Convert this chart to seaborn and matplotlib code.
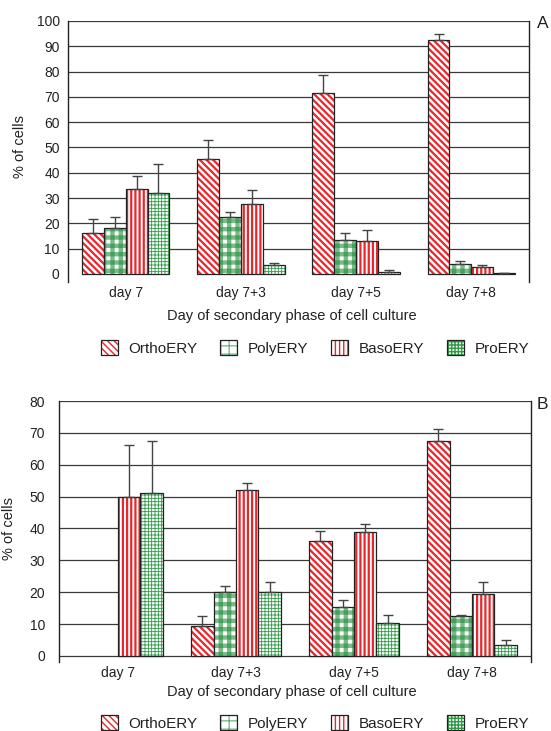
import numpy as np
import pandas as pd
import matplotlib
matplotlib.use('Agg')
import matplotlib.pyplot as plt
from matplotlib.patches import Rectangle
import seaborn as sns

days = ['day 7', 'day 7+3', 'day 7+5', 'day 7+8']
cell_types = ['OrthoERY', 'PolyERY', 'BasoERY', 'ProERY']

# Panel A - mean % of cells and upper SD
a_ortho = [16, 45.5, 71.5, 92.5]
a_ortho_sd = [5.8, 7.5, 7.1, 2.4]
a_poly = [18, 22.5, 13.5, 4]
a_poly_sd = [4.5, 2, 2.8, 1.2]
a_baso = [33.5, 27.5, 13, 2.8]
a_baso_sd = [5.3, 5.5, 4.4, 0.8]
a_pro = [32, 3.5, 0.8, 0.3]
a_pro_sd = [11.3, 0.9, 0.7, 0.2]

# Panel B
b_ortho = [np.nan, 9.4, 36, 67.3]
b_ortho_sd = [np.nan, 3, 3.3, 4]
b_poly = [np.nan, 20, 15.5, 12.5]
b_poly_sd = [np.nan, 2, 2, 0.3]
b_baso = [50, 52, 39, 19.5]
b_baso_sd = [16.3, 2.4, 2.5, 3.8]
b_pro = [51.2, 20, 10.3, 3.4]
b_pro_sd = [16.3, 3.2, 2.5, 1.6]

RED = '#e8262b'
GREEN = '#2f9a45'
CHECK = (0.13, 0.56, 0.24, 0.6)
OUTLINE = '#222222'

styles = {
    'OrthoERY': dict(hatch='\\\\\\\\\\', color=RED, hlw=1.6),
    'PolyERY': dict(hatch='||', color=CHECK, hlw=3.2),
    'BasoERY': dict(hatch='||||', color=RED, hlw=1.6),
    'ProERY': dict(hatch='+++++', color=GREEN, hlw=0.6),
}


def make_df(values, sds):
    rows = []
    for ct, vals, errs in zip(cell_types, values, sds):
        for d, v, e in zip(days, vals, errs):
            rows.append({'day': d, 'type': ct, 'value': v, 'sd': e})
    return pd.DataFrame(rows)


def hatched(xy, w, h, ct):
    st = styles[ct]
    parts = []
    p = Rectangle(xy, w, h, facecolor='white', edgecolor=st['color'], hatch=st['hatch'], lw=0)
    p.set_hatch_linewidth(st['hlw'])
    parts.append(p)
    if ct == 'PolyERY':
        # second layer of bands crossing the first one -> checker look
        p2 = Rectangle(xy, w, h, fill=False, edgecolor=st['color'], hatch='--', lw=0)
        p2.set_hatch_linewidth(st['hlw'])
        parts.append(p2)
    parts.append(Rectangle(xy, w, h, fill=False, edgecolor=OUTLINE, lw=0.9))
    return parts


def draw_panel(ax, df, ymax, ybottom):
    sns.barplot(data=df, x='day', y='value', hue='type', order=days, hue_order=cell_types,
                errorbar=None, width=0.76, gap=0, legend=False, ax=ax)
    for ct, cont in zip(cell_types, ax.containers):
        sub = df[df['type'] == ct].set_index('day')
        for p in cont:
            h = p.get_height()
            p.set_visible(False)
            if np.isnan(h):
                continue
            for part in hatched(p.get_xy(), p.get_width(), h, ct):
                part.set_zorder(3)
                ax.add_patch(part)
            xc = p.get_x() + p.get_width() / 2
            err = sub.loc[days[int(round(xc))], 'sd']
            ax.errorbar([xc], [h], yerr=[[0], [err]], fmt='none', ecolor='#444444',
                        elinewidth=1, capsize=3.6, capthick=1, zorder=4)
    ax.set_ylim(ybottom, ymax)
    ax.set_yticks(range(0, ymax + 1, 10))
    ax.set_xlim(-0.5, 3.5)
    ax.yaxis.grid(True, color='#3a3a3a', lw=0.9)
    ax.set_axisbelow(True)
    ax.set_xlabel('')
    ax.set_ylabel('% of cells', fontsize=10.5, color='#222222')
    for s in ['top', 'bottom']:
        ax.spines[s].set_visible(False)
    for s in ['left', 'right']:
        ax.spines[s].set_color(OUTLINE)
        ax.spines[s].set_linewidth(1)
    ax.tick_params(axis='x', length=0, labelsize=10, pad=3, labelcolor='#222222')


sns.set_theme(style='white')
plt.rcParams['font.family'] = ['Liberation Sans', 'DejaVu Sans']

fig = plt.figure(figsize=(5.51, 7.31), dpi=100)
ax_a = fig.add_axes([68 / 551, 1 - 282 / 731, 461 / 551, 261 / 731])
ax_b = fig.add_axes([59 / 551, 1 - 662 / 731, 472 / 551, 261 / 731])

df_a = make_df([a_ortho, a_poly, a_baso, a_pro], [a_ortho_sd, a_poly_sd, a_baso_sd, a_pro_sd])
df_b = make_df([b_ortho, b_poly, b_baso, b_pro], [b_ortho_sd, b_poly_sd, b_baso_sd, b_pro_sd])

draw_panel(ax_a, df_a, 100, -3.2)
draw_panel(ax_b, df_b, 80, -1.9)

# panel A has no line at zero
ax_a.get_ygridlines()[0].set_visible(False)
ax_a.tick_params(axis='y', length=5, width=0.9, color=OUTLINE, labelsize=10, pad=1, labelcolor='#222222')
ax_b.tick_params(axis='y', length=6, width=0.9, color=OUTLINE, labelsize=10, pad=4, labelcolor='#222222')
ax_a.yaxis.set_label_coords(-0.089, 0.52)
ax_b.yaxis.set_label_coords(-0.091, 0.51)

for y in [316, 692]:
    fig.text(292 / 551, 1 - y / 731, 'Day of secondary phase of cell culture',
             ha='center', va='center', fontsize=10.5, color='#222222')

fig.text(537 / 551, 1 - 24 / 731, 'A', ha='left', va='center', fontsize=12.5, color='#222222')
fig.text(537 / 551, 1 - 404 / 731, 'B', ha='left', va='center', fontsize=12.5, color='#222222')

handles = [tuple(hatched((0, 0), 1, 1, ct)) for ct in cell_types]
for y in [348, 723]:
    fig.legend(handles, cell_types, loc='center', bbox_to_anchor=(315 / 551, 1 - y / 731),
               ncol=4, frameon=False, fontsize=11, handlelength=1.1, handleheight=1.1,
               handletextpad=0.7, columnspacing=1.5, labelcolor='#222222')

fig.savefig('out.png', dpi=100)
